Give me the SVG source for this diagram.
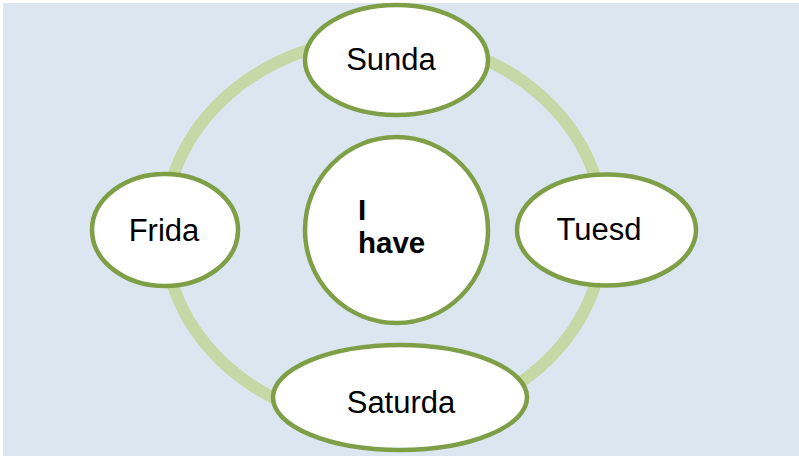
<svg xmlns="http://www.w3.org/2000/svg" width="799" height="456" viewBox="0 0 799 456">
<style>
.node{fill:#ffffff;stroke:#7f9f47;stroke-width:4.5}
.lbl{font-family:"Liberation Sans",Arial,sans-serif;font-size:31px;fill:#000;text-anchor:middle}
.bold{font-family:"Liberation Sans",Arial,sans-serif;font-size:29.5px;font-weight:bold;fill:#000}
</style>
<rect x="0" y="0" width="799" height="456" fill="#ffffff"/>
<rect x="3" y="3" width="796" height="453" fill="#dce6f1"/>
<g id="connectors">
<ellipse cx="384" cy="231" rx="220" ry="193" fill="none" stroke="#c5d8a5" stroke-width="12"/>
</g>
<g id="center">
<ellipse class="node" cx="396.5" cy="230" rx="91.5" ry="93"/>
<text class="bold" x="358" y="220">I</text>
<text class="bold" x="358" y="253">have</text>
</g>
<g id="sunday">
<ellipse class="node" cx="396.5" cy="60" rx="91.5" ry="55"/>
<text class="lbl" x="391" y="70">Sunda</text>
</g>
<g id="friday">
<ellipse class="node" cx="165" cy="230" rx="73" ry="56"/>
<text class="lbl" x="164" y="241">Frida</text>
</g>
<g id="tuesday">
<ellipse class="node" cx="606.5" cy="230" rx="89.5" ry="55.5"/>
<text class="lbl" x="599" y="240">Tuesd</text>
</g>
<g id="saturday">
<ellipse class="node" cx="400" cy="397.5" rx="127" ry="52.5"/>
<text class="lbl" x="401" y="413">Saturda</text>
</g>
</svg>
